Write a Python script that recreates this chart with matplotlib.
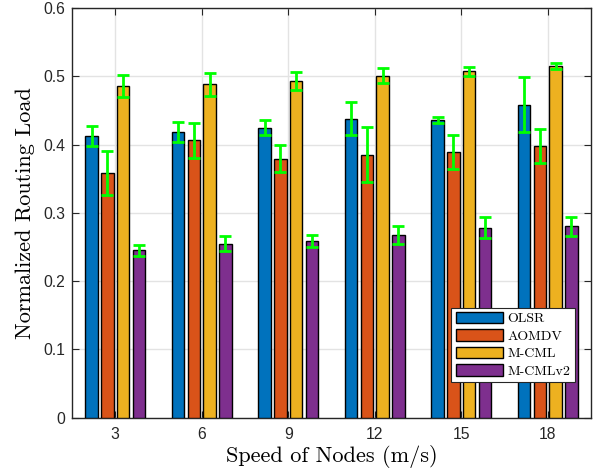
import matplotlib
matplotlib.use("Agg")
import matplotlib.pyplot as plt
import numpy as np

speeds = ["3", "6", "9", "12", "15", "18"]
series_names = ["OLSR", "AOMDV", "M-CML", "M-CMLv2"]
olsr = [0.4126, 0.4185, 0.4248, 0.4375, 0.4361, 0.4585]
aomdv = [0.3584, 0.4062, 0.3793, 0.3852, 0.3891, 0.3979]
mcml = [0.4859, 0.4883, 0.4933, 0.5010, 0.5073, 0.5152]
mcmlv2 = [0.2455, 0.2551, 0.2591, 0.2679, 0.2782, 0.2801]
olsr_err = [0.0152, 0.0147, 0.0113, 0.0242, 0.0039, 0.0398]
aomdv_err = [0.0325, 0.0259, 0.0195, 0.0403, 0.0247, 0.0251]
mcml_err = [0.0159, 0.0166, 0.0127, 0.0108, 0.0068, 0.0044]
mcmlv2_err = [0.0081, 0.0108, 0.0090, 0.0134, 0.0157, 0.0144]
y_ticks = [0, 0.1, 0.2, 0.3, 0.4, 0.5, 0.6]

colors = ["#0072BD", "#D95319", "#EDB120", "#7E2F8E"]
values = [olsr, aomdv, mcml, mcmlv2]
errors = [olsr_err, aomdv_err, mcml_err, mcmlv2_err]

fig = plt.figure(figsize=(5.99, 4.75), dpi=100)
ax = fig.add_axes([0.1202, 0.1206, 0.8664, 0.8626])

x = np.arange(1, len(speeds) + 1)
width = 0.145
offsets = [-0.273, -0.091, 0.091, 0.273]
for vals, errs, c, off, name in zip(values, errors, colors, offsets, series_names):
    ax.bar(x + off, vals, width, color=c, edgecolor="black", linewidth=1.0,
           label=name, zorder=3)
    ax.errorbar(x + off, vals, yerr=errs, fmt="none", ecolor="#00FF00",
                elinewidth=2.0, capsize=4.5, capthick=2.0, zorder=4)

ax.set_xlim(0.5, 6.5)
ax.set_ylim(0, 0.6)
ax.set_xticks(x)
ax.set_xticklabels(speeds)
ax.set_yticks(y_ticks)
ax.set_yticklabels(["0", "0.1", "0.2", "0.3", "0.4", "0.5", "0.6"])
ax.grid(True, color="#E3E3E3", linewidth=1.0, zorder=0)
ax.set_axisbelow(True)
ax.tick_params(direction="in", top=True, right=True, length=5, width=0.8,
               color="#262626", labelsize=11.3, labelcolor="#262626")
ax.tick_params(axis="x", pad=7)
ax.tick_params(axis="y", pad=5)
for lab in ax.get_xticklabels() + ax.get_yticklabels():
    lab.set_fontfamily("Liberation Sans")
for sp in ax.spines.values():
    sp.set_color("#262626")
    sp.set_linewidth(1.0)

ax.set_xlabel("Speed of Nodes (m/s)", fontfamily="cmr10", fontsize=16, labelpad=2)
ax.set_ylabel("Normalized Routing Load", fontfamily="cmr10", fontsize=16, labelpad=6)

leg = ax.legend(loc="lower right", bbox_to_anchor=(0.969, 0.087),
                prop={"family": "cmr10", "size": 10}, fancybox=False,
                framealpha=1, edgecolor="#262626", handlelength=3.4,
                handleheight=0.87, handletextpad=0.35, labelspacing=0.3,
                borderpad=0.3, borderaxespad=0.0)
leg.get_frame().set_linewidth(0.8)

fig.savefig("out.png", dpi=100)
